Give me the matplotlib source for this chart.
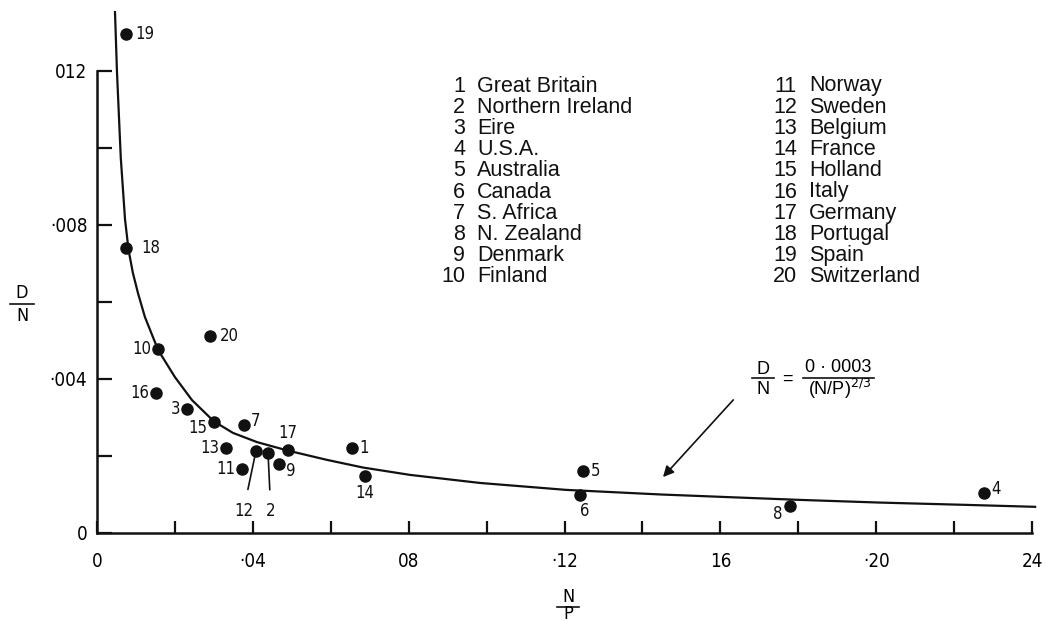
import numpy as np
import matplotlib
matplotlib.use('Agg')
import matplotlib.pyplot as plt
from matplotlib.lines import Line2D

W, H = 1047, 622

countries = ["Great Britain", "Northern Ireland", "Eire", "U.S.A.", "Australia",
             "Canada", "S. Africa", "N. Zealand", "Denmark", "Finland",
             "Norway", "Sweden", "Belgium", "France", "Holland",
             "Italy", "Germany", "Portugal", "Spain", "Switzerland"]
# N/P and D/N for countries 1..20
np_vals = [0.0655, 0.0439, 0.0231, 0.2277, 0.1247, 0.1240, 0.0377, 0.1779, 0.0467, 0.0157,
           0.0372, 0.0408, 0.0331, 0.0688, 0.0300, 0.0151, 0.0490, 0.0074, 0.0074, 0.0290]
dn_vals = [0.00221, 0.00208, 0.00322, 0.00104, 0.00161, 0.00099, 0.00281, 0.00070, 0.00179, 0.00478,
           0.00166, 0.00213, 0.00221, 0.00148, 0.00288, 0.00364, 0.00216, 0.00740, 0.01296, 0.00512]

# fitted curve as drawn
curve_x = [0.00462, 0.00513, 0.0061, 0.00719, 0.00810, 0.0092, 0.01052, 0.0123, 0.0157, 0.0200,
           0.0244, 0.0300, 0.0349, 0.0411, 0.0490, 0.0590, 0.0683, 0.0803, 0.0983, 0.1204,
           0.1448, 0.1625, 0.1804, 0.2010, 0.2233, 0.2408]
curve_y = [0.01353, 0.01197, 0.00975, 0.00815, 0.00735, 0.00676, 0.00623, 0.00561, 0.00475, 0.00405,
           0.00345, 0.00290, 0.00260, 0.00236, 0.00214, 0.00190, 0.00170, 0.00151, 0.00130, 0.00112,
           0.00100, 0.00093, 0.00086, 0.00079, 0.00073, 0.00068]

x_ticks = [0, 0.04, 0.08, 0.12, 0.16, 0.20, 0.24]
x_ticklabels = ['0', '·04', '08', '·12', '16', '·20', '24']
y_ticks = [0, 0.004, 0.008, 0.012]
y_ticklabels = ['0', '·004', '·008', '012']

# label placement: (dx, dy) in points, ha, va
lab_pos = {
    1: (5, 0, 'left', 'center'), 3: (-5, 0, 'right', 'center'),
    4: (5, 3, 'left', 'center'), 5: (6, 0, 'left', 'center'),
    6: (3, -5, 'center', 'top'), 7: (5, 3, 'left', 'center'),
    8: (-9, -6, 'center', 'center'), 9: (5, -5, 'left', 'center'),
    10: (-5, 0, 'right', 'center'), 11: (-5, 0, 'right', 'center'),
    13: (-5, 0, 'right', 'center'), 14: (0, -6, 'center', 'top'),
    15: (-5, -4, 'right', 'center'), 16: (-5, 0, 'right', 'center'),
    17: (0, 6, 'center', 'bottom'), 18: (11, 0, 'left', 'center'),
    19: (7, 0, 'left', 'center'), 20: (7, 0, 'left', 'center'),
}
leader_pos = {12: (-9, -43), 2: (2, -42)}

plt.rcParams['font.family'] = ['Liberation Sans', 'DejaVu Sans']
narrow = dict(family='DejaVu Sans', stretch='condensed')


def fp(x, y):
    return x / W, 1 - y / H


fig = plt.figure(figsize=(W / 100, H / 100), dpi=100)
ax = fig.add_axes([97 / W, 89 / H, 935 / W, 531 / H])
ax.set_xlim(0, 0.24)
ax.set_ylim(0, 531 / 38500)

ax.plot(curve_x, curve_y, color='#111111', lw=1.6, clip_on=False, zorder=2,
        solid_joinstyle='round')
ax.plot(np_vals, dn_vals, 'o', color='#111111', ms=8, clip_on=False, zorder=3)

for i, (x, y) in enumerate(zip(np_vals, dn_vals), start=1):
    if i in lab_pos:
        dx, dy, ha, va = lab_pos[i]
        ax.annotate(str(i), (x, y), xytext=(dx, dy), textcoords='offset points',
                    ha=ha, va=va, fontsize=12, color='#111111', **narrow)
    else:
        dx, dy = leader_pos[i]
        ax.annotate(str(i), (x, y), xytext=(dx, dy), textcoords='offset points',
                    ha='center', va='center', fontsize=12, color='#111111',
                    arrowprops=dict(arrowstyle='-', color='#111111', lw=1.2,
                                    shrinkA=7, shrinkB=4), **narrow)

for s in ['top', 'right']:
    ax.spines[s].set_visible(False)
ax.spines['left'].set_bounds(0, 0.012)
ax.spines['bottom'].set_bounds(0, 0.24)
for s in ['left', 'bottom']:
    ax.spines[s].set_linewidth(1.8)
    ax.spines[s].set_color('#111111')

ax.set_xticks(x_ticks)
ax.set_xticklabels(x_ticklabels, fontsize=13.5, **narrow)
ax.set_xticks(np.arange(0.02, 0.24, 0.04), minor=True)
ax.set_yticks(y_ticks)
ax.set_yticklabels(y_ticklabels, fontsize=13.5, **narrow)
ax.set_yticks([0.002, 0.006, 0.010], minor=True)
ax.tick_params(axis='x', which='both', direction='in', length=9, width=1.6, pad=14, color='#111111')
ax.tick_params(axis='y', which='both', direction='in', length=11, width=1.6, pad=7, color='#111111')

# axis titles as stacked fractions
fig.text(*fp(22, 293), 'D', ha='center', va='center', fontsize=13, **narrow)
fig.add_artist(Line2D([10 / W, 34 / W], [1 - 304 / H] * 2, color='#111111', lw=1.2))
fig.text(*fp(22, 316), 'N', ha='center', va='center', fontsize=13, **narrow)
fig.text(*fp(568, 597), 'N', ha='center', va='center', fontsize=13, **narrow)
fig.add_artist(Line2D([557 / W, 579 / W], [1 - 607 / H] * 2, color='#111111', lw=1.2))
fig.text(*fp(568, 614), 'P', ha='center', va='center', fontsize=13, **narrow)

# key of country numbers
for i, name in enumerate(countries):
    col, row = divmod(i, 10)
    y = 86 + row * 21.2
    xn = 465 if col == 0 else 797
    fig.text(*fp(xn, y), str(i + 1), ha='right', va='center', fontsize=15.5, color='#111111')
    fig.text(*fp(xn + 12, y), name, ha='left', va='center', fontsize=15.5, color='#111111')

# fitted equation with arrow
fig.text(*fp(763, 369), 'D', ha='center', va='center', fontsize=13)
fig.add_artist(Line2D([752 / W, 774 / W], [1 - 378 / H] * 2, color='#111111', lw=1.2))
fig.text(*fp(763, 389), 'N', ha='center', va='center', fontsize=13)
fig.text(*fp(787, 379), '=', ha='center', va='center', fontsize=13)
fig.text(*fp(838, 368), '0 · 0003', ha='center', va='center', fontsize=13)
fig.add_artist(Line2D([803 / W, 874 / W], [1 - 378 / H] * 2, color='#111111', lw=1.2))
fig.text(*fp(840, 389), '(N/P)$^{2/3}$', ha='center', va='center', fontsize=13)
ax.annotate('', xy=(0.1448, 0.00140), xytext=(0.1638, 0.00351),
            arrowprops=dict(arrowstyle='-|>', color='#111111', lw=1.2, mutation_scale=16))

fig.savefig('out.png', dpi=100)
